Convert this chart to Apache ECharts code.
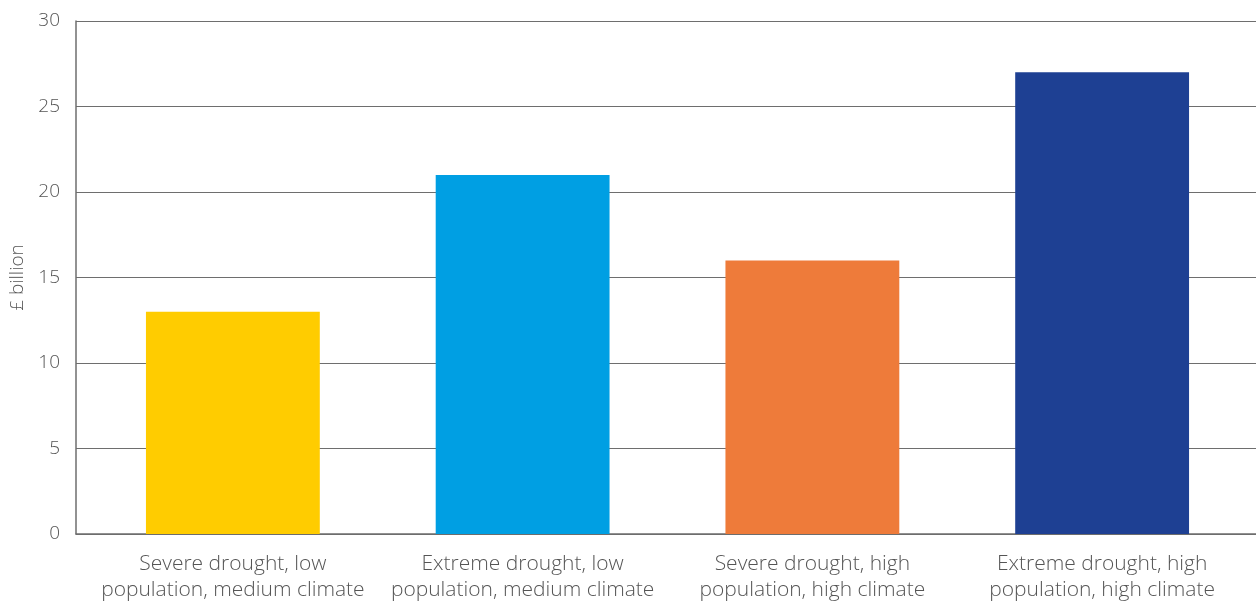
<!DOCTYPE html>
<html>
<head>
<meta charset="utf-8">
<script src="https://cdn.jsdelivr.net/npm/echarts@6/dist/echarts.min.js"></script>
<style>
  html, body { margin: 0; padding: 0; background: #fff; }
  #chart { width: 1256px; height: 603px; }
</style>
</head>
<body>
<div id="chart"></div>
<script>
// Drought scenarios and their estimated cost (£ billion)
const categories = [
  'Severe drought, low\npopulation, medium climate',
  'Extreme drought, low\npopulation, medium climate',
  'Severe drought, high\npopulation, high climate',
  'Extreme drought, high\npopulation, high climate'
];
const values = [13, 21, 16, 27];
const barColors = ['#FFCC00', '#009FE3', '#EE7B3A', '#1E4093'];
const yTicks = { min: 0, max: 30, interval: 5 };

const FONT = '"Open Sans", Lato, sans-serif';
const TEXT = '#555555';
const LINE = '#6e6e6e';

const chart = echarts.init(document.getElementById('chart'));
chart.setOption({
  animation: false,
  grid: [
    // frame: y axis, gridlines and baseline
    { left: 76, right: 0, top: 21, bottom: 69, containLabel: false, outerBoundsMode: 'none' },
    // bars and category labels
    { left: 88, right: 9, top: 21, bottom: 69, containLabel: false, outerBoundsMode: 'none' }
  ],
  xAxis: [
    {
      gridIndex: 0, type: 'category', data: categories,
      axisLine: { show: true, lineStyle: { color: LINE, width: 1.5 } },
      axisTick: { show: false }, axisLabel: { show: false }, splitLine: { show: false }
    },
    {
      gridIndex: 1, type: 'category', data: categories,
      axisLine: { show: false }, axisTick: { show: false },
      axisLabel: {
        color: TEXT, fontFamily: FONT, fontWeight: 300, fontSize: 21, lineHeight: 26,
        margin: 17, interval: 0, align: 'center'
      }
    }
  ],
  yAxis: [
    {
      gridIndex: 0, type: 'value', min: yTicks.min, max: yTicks.max, interval: yTicks.interval,
      name: '£ billion', nameLocation: 'middle', nameGap: 48, nameRotate: 90,
      nameTextStyle: { color: TEXT, fontFamily: FONT, fontWeight: 300, fontSize: 19 },
      axisLine: { show: true, lineStyle: { color: LINE, width: 1.5 } },
      axisTick: { show: false },
      axisLabel: { color: TEXT, fontFamily: FONT, fontWeight: 300, fontSize: 19, margin: 16 },
      splitLine: { show: true, lineStyle: { color: LINE, width: 1 } }
    },
    {
      gridIndex: 1, type: 'value', min: yTicks.min, max: yTicks.max, interval: yTicks.interval,
      show: false, splitLine: { show: false }
    }
  ],
  series: [{
    type: 'bar',
    xAxisIndex: 1, yAxisIndex: 1,
    barCategoryGap: '40%',
    data: values.map((v, i) => ({ value: v, itemStyle: { color: barColors[i] } }))
  }]
});
</script>
</body>
</html>
